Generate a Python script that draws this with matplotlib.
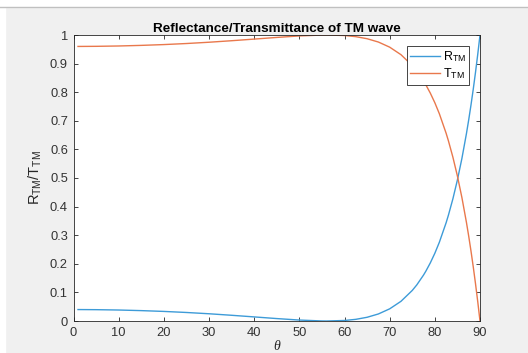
import numpy as np
import matplotlib.pyplot as plt
from matplotlib.patches import Rectangle
from matplotlib.lines import Line2D

plt.rcParams['font.family'] = ['Liberation Sans', 'DejaVu Sans']
plt.rcParams['mathtext.fontset'] = 'custom'
plt.rcParams['mathtext.rm'] = 'Liberation Sans'
plt.rcParams['mathtext.it'] = 'Liberation Serif:italic'

# Incidence angle (deg) and TM reflectance / transmittance
theta = [1, 5, 10, 15, 20, 25, 30, 35, 40, 45, 50, 55, 56, 60, 62.5, 65,
         67.5, 70, 72.5, 75, 76, 77.5, 78, 79, 80, 81, 82.5, 83, 84, 85,
         86, 87, 87.5, 88, 88.5, 89, 89.5, 90]
r_tm = [0.0400, 0.0396, 0.0384, 0.0363, 0.0335, 0.0298, 0.0253, 0.0200,
        0.0143, 0.0085, 0.0033, 0.0002, 0.0000, 0.0018, 0.0058, 0.0130,
        0.0246, 0.0425, 0.0688, 0.1068, 0.1261, 0.1607, 0.1739, 0.2032,
        0.2368, 0.2753, 0.3436, 0.3696, 0.4273, 0.4933, 0.5689, 0.6555,
        0.7034, 0.7548, 0.8099, 0.8689, 0.9322, 1.0000]
t_tm = [0.9600, 0.9604, 0.9616, 0.9637, 0.9665, 0.9702, 0.9747, 0.9800,
        0.9857, 0.9915, 0.9967, 0.9998, 1.0000, 0.9982, 0.9942, 0.9870,
        0.9754, 0.9575, 0.9312, 0.8932, 0.8739, 0.8393, 0.8261, 0.7968,
        0.7632, 0.7247, 0.6564, 0.6304, 0.5727, 0.5067, 0.4311, 0.3445,
        0.2966, 0.2452, 0.1901, 0.1311, 0.0678, 0.0000]

blue = '#3d9bd8'
orange = '#e9784c'
dark = '#262626'

fig = plt.figure(figsize=(5.28, 3.53), dpi=100)
fig.patch.set_facecolor('#f0f0f0')
# window strips along the top and left edges
fig.patches.append(Rectangle((0, 1 - 6.5 / 353), 1, 6.5 / 353,
                             transform=fig.transFigure, color='white', zorder=0))
fig.patches.append(Rectangle((0, 0), 4.5 / 528, 1,
                             transform=fig.transFigure, color='white', zorder=0))
fig.lines.append(Line2D([0, 1], [1 - 7 / 353, 1 - 7 / 353],
                        transform=fig.transFigure, color='#c0c0c0', lw=1))

ax = fig.add_axes([73.5 / 528, 1 - 321 / 353, 406.5 / 528, 286 / 353])
ax.plot(theta, r_tm, color=blue, lw=1.0, label=r'R$_{\rm TM}$')
ax.plot(theta, t_tm, color=orange, lw=1.0, label=r'T$_{\rm TM}$')

ax.set_xlim(0, 90)
ax.set_ylim(0, 1)
ax.set_xticks(np.arange(0, 91, 10))
ax.set_yticks(np.arange(0, 1.01, 0.1))
ax.set_yticklabels(['0', '0.1', '0.2', '0.3', '0.4', '0.5', '0.6',
                    '0.7', '0.8', '0.9', '1'])
ax.tick_params(direction='in', top=True, right=True, length=3,
               width=0.6, colors=dark, labelsize=9.3, pad=4)
ax.tick_params(axis='both', labelcolor='#333333')
for s in ax.spines.values():
    s.set_color(dark)
    s.set_linewidth(0.6)

ax.set_title('Reflectance/Transmittance of TM wave', fontsize=9.7,
             fontweight='bold', color='black', pad=2)
ax.set_xlabel(r'$\theta$', fontsize=10, color=dark, labelpad=0)
ax.set_ylabel(r'R$_{\rm TM}$/T$_{\rm TM}$', fontsize=10.5, color=dark, labelpad=4)

leg = ax.legend(loc='upper right', fontsize=9, fancybox=False,
                framealpha=1, edgecolor=dark, handlelength=2.4,
                borderaxespad=0.9, handletextpad=0.2, borderpad=0.25,
                labelspacing=0.2)
leg.get_frame().set_linewidth(0.6)

fig.savefig('out.png', dpi=100, facecolor=fig.get_facecolor())
